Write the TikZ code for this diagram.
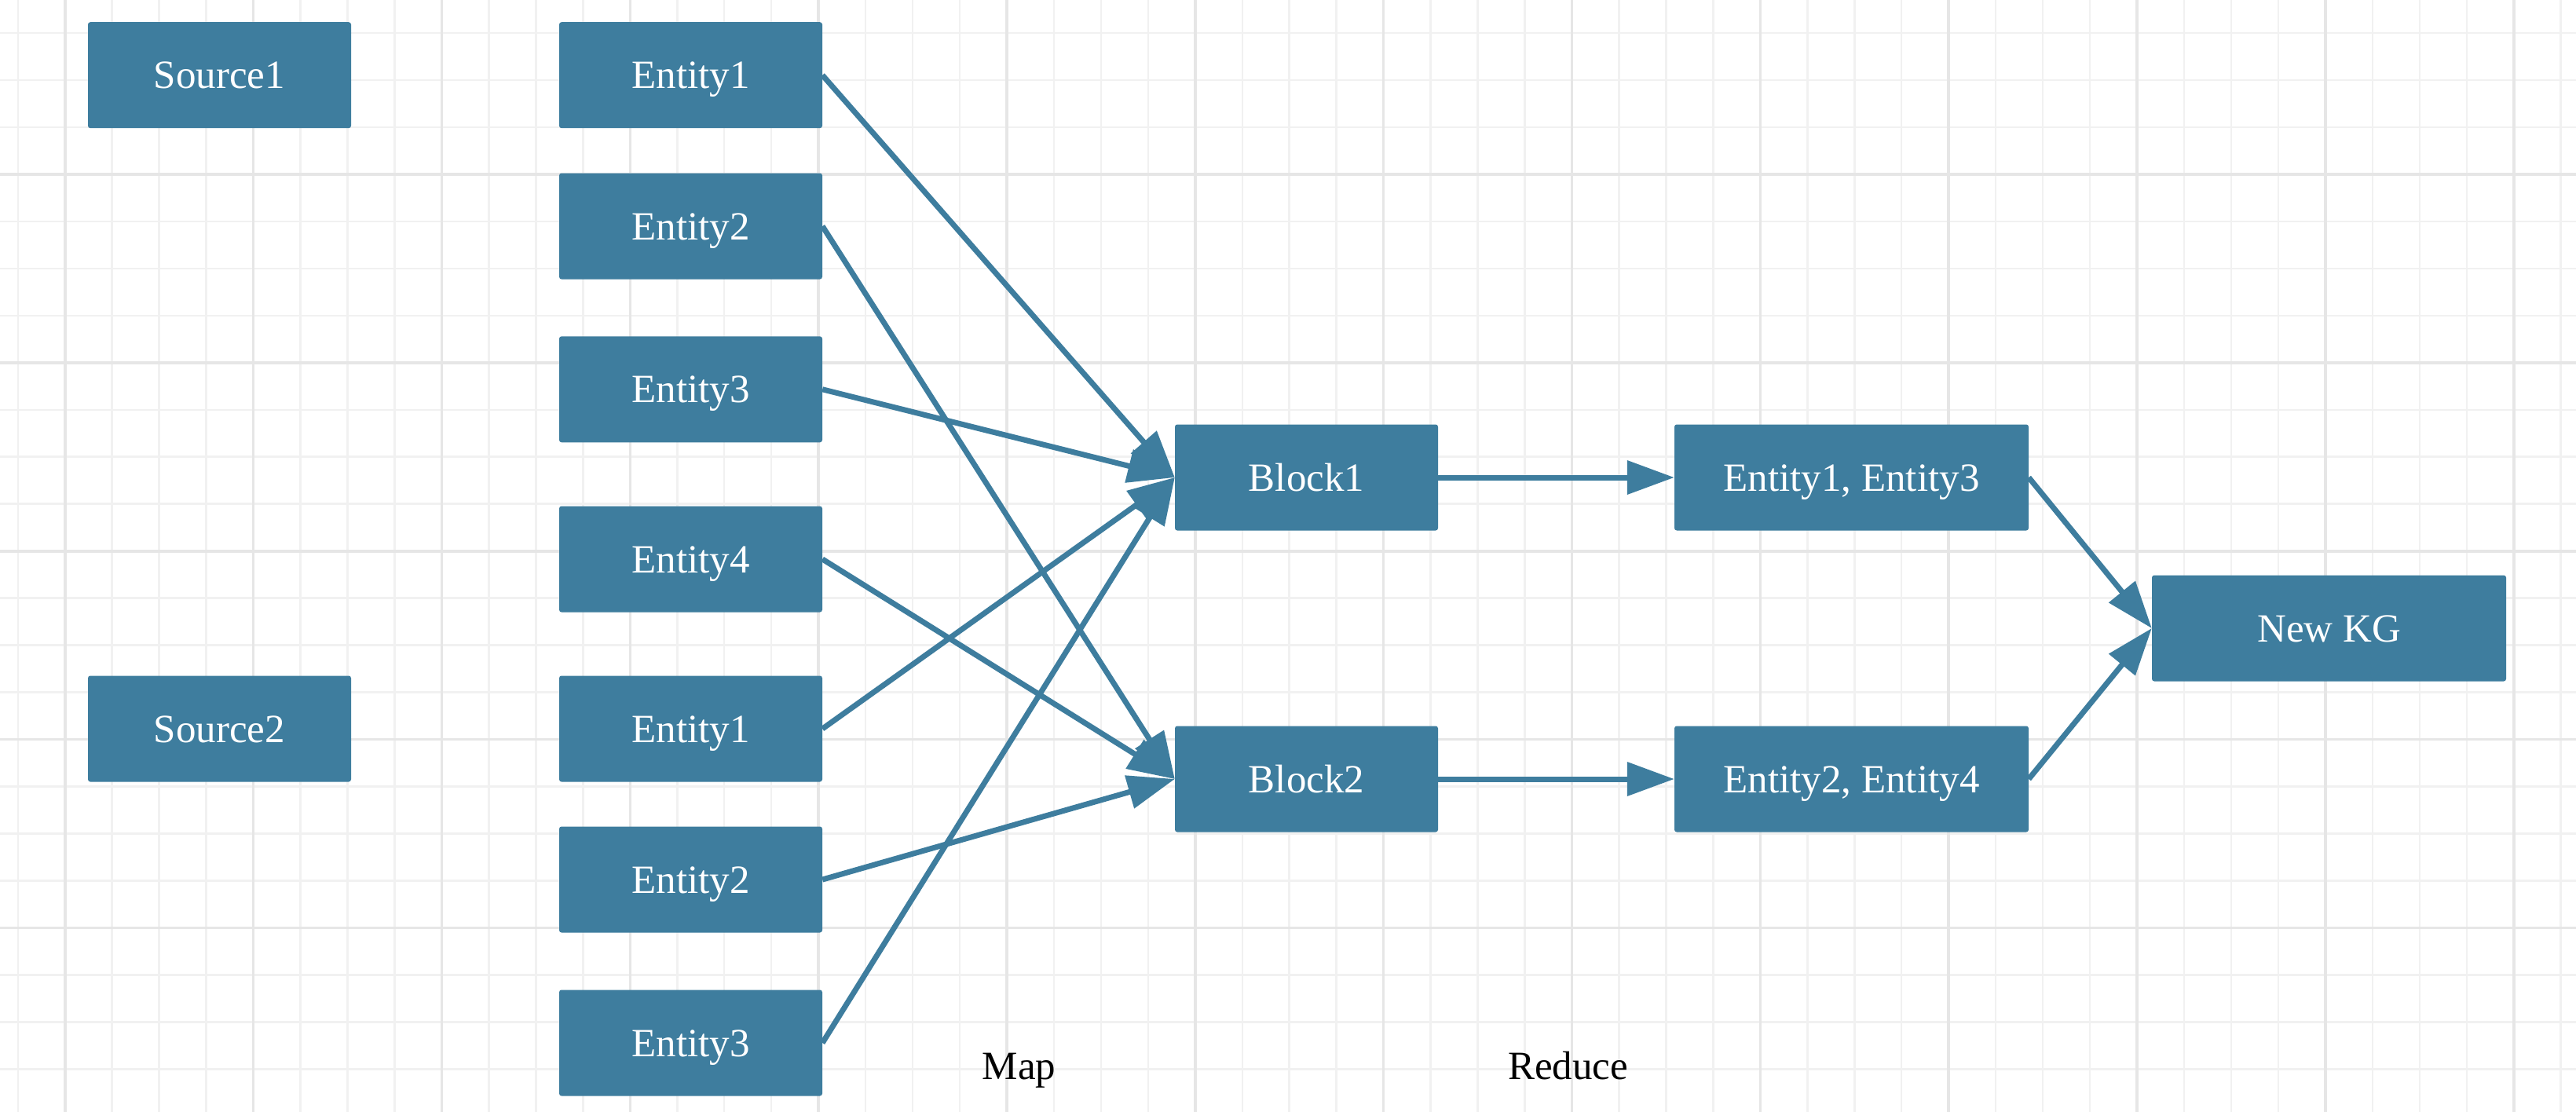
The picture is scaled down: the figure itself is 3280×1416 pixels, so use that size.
\documentclass[tikz,border=0pt]{standalone}
\usepackage{fontspec}
\setmainfont{Liberation Serif}
\usetikzlibrary{arrows.meta}
\definecolor{boxblue}{HTML}{3E7D9E}
\definecolor{gridminor}{HTML}{F1F1F1}
\definecolor{gridmajor}{HTML}{E6E6E6}
\begin{document}
\begin{tikzpicture}[x=1pt,y=-1pt,
  box/.style={fill=boxblue, rounded corners=3pt, minimum width=335pt, minimum height=135pt,
    inner sep=0pt, text=white, font=\fontsize{51}{60}\selectfont, text height=34pt, text depth=0pt},
  widebox/.style={box, minimum width=451pt},
  lbl/.style={inner sep=0pt, text=black, font=\fontsize{51}{60}\selectfont, text height=34pt, text depth=0pt},
  conn/.style={draw=boxblue, line width=7pt, -{Triangle[length=60pt,width=42pt]}},
  gminor/.style={draw=gridminor, line width=2.5pt},
  gmajor/.style={draw=gridmajor, line width=3.5pt}]
\useasboundingbox (0,0) rectangle (3280,1416);
\fill[white] (0,0) rectangle (3280,1416);
% grid
\foreach \k in {0,...,54} { \draw[gminor] ({22.8+59.96*\k},0) -- ({22.8+59.96*\k},1416); }
\foreach \k in {0,...,22} { \draw[gminor] (0,{42+59.97*\k}) -- (3280,{42+59.97*\k}); }
\foreach \k in {0,...,13} { \draw[gmajor] ({82.8+239.84*\k},0) -- ({82.8+239.84*\k},1416); }
\foreach \k in {0,...,4} { \draw[gmajor] (0,{222+239.9*\k}) -- (3280,{222+239.9*\k}); }
% nodes
\node[box] (src1) at (279.5,95.7) {Source1};
\node[box] (src2) at (279.5,928) {Source2};
\node[box] (e1) at (879.5,95.7) {Entity1};
\node[box] (e2) at (879.5,288) {Entity2};
\node[box] (e3) at (879.5,495.8) {Entity3};
\node[box] (e4) at (879.5,712) {Entity4};
\node[box] (e5) at (879.5,928) {Entity1};
\node[box] (e6) at (879.5,1120) {Entity2};
\node[box] (e7) at (879.5,1328) {Entity3};
\node[box] (b1) at (1663.5,608) {Block1};
\node[box] (b2) at (1663.5,992) {Block2};
\node[widebox] (r1) at (2357.5,608) {Entity1, Entity3};
\node[widebox] (r2) at (2357.5,992) {Entity2, Entity4};
\node[widebox] (kg) at (2965.5,800) {New KG};
\node[lbl] (map) at (1297.6,1357.8) {Map};
\node[lbl] (reduce) at (1996.6,1357.8) {Reduce};
% connectors
\draw[conn] (e1.east) -- (b1.west);
\draw[conn] (e2.east) -- (b2.west);
\draw[conn] (e3.east) -- (b1.west);
\draw[conn] (e4.east) -- (b2.west);
\draw[conn] (e5.east) -- (b1.west);
\draw[conn] (e6.east) -- (b2.west);
\draw[conn] (e7.east) -- (b1.west);
\draw[conn] (b1.east) -- (r1.west);
\draw[conn] (b2.east) -- (r2.west);
\draw[conn] (r1.east) -- (kg.west);
\draw[conn] (r2.east) -- (kg.west);
\end{tikzpicture}
\end{document}
